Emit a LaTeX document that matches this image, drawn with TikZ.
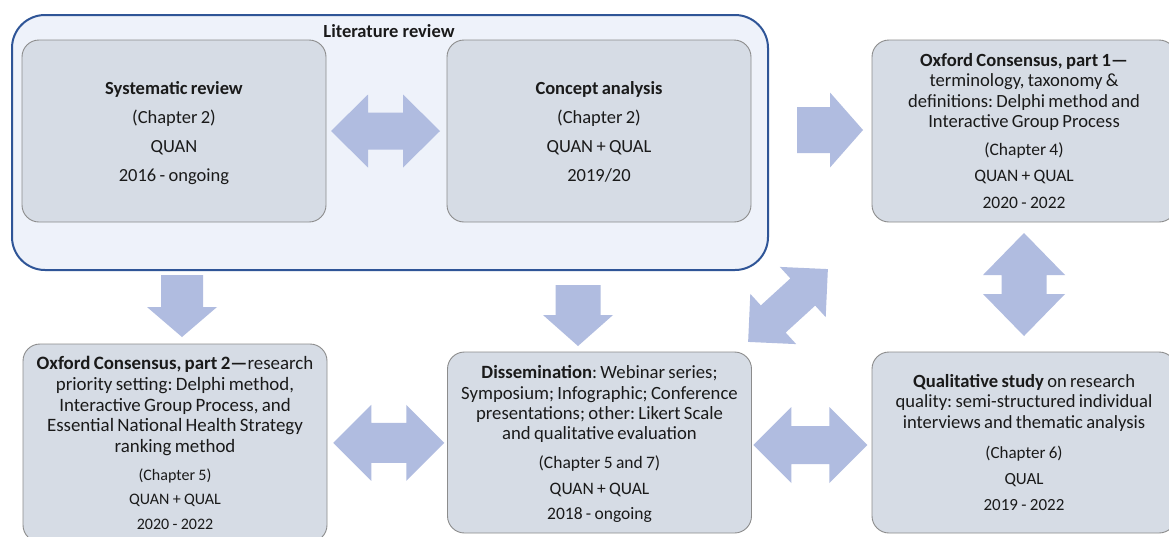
\documentclass[tikz,border=0pt]{standalone}
\usepackage{fontspec}
\setmainfont{Carlito}
\usetikzlibrary{calc}
\frenchspacing

\definecolor{litfill}{HTML}{EEF2FA}
\definecolor{litline}{HTML}{2F5597}
\definecolor{boxfill}{HTML}{D6DCE5}
\definecolor{boxline}{HTML}{8C8C8C}
\definecolor{arrowfill}{HTML}{B0BCE0}
\definecolor{inktext}{HTML}{1A1A1A}

% double-headed block arrow: centre, angle, half length, half shaft, half head, head length
\newcommand\blockdbl[6]{%
  \begin{scope}[shift={#1}, rotate=#2]
    \fill[arrowfill] (-#3,0) -- ({-#3+#6},#5) -- ({-#3+#6},#4) -- ({#3-#6},#4)
      -- ({#3-#6},#5) -- (#3,0) -- ({#3-#6},-#5) -- ({#3-#6},-#4)
      -- ({-#3+#6},-#4) -- ({-#3+#6},-#5) -- cycle;
  \end{scope}}
% single-headed block arrow, tip on the +x side before rotation
\newcommand\blocksgl[6]{%
  \begin{scope}[shift={#1}, rotate=#2]
    \fill[arrowfill] (-#3,-#4) -- ({#3-#6},-#4) -- ({#3-#6},-#5) -- (#3,0)
      -- ({#3-#6},#5) -- ({#3-#6},#4) -- (-#3,#4) -- cycle;
  \end{scope}}

\tikzset{
  stagebox/.style={draw=boxline, line width=0.9pt, fill=boxfill, rounded corners=17pt,
    minimum width=304pt, minimum height=182pt, inner sep=0pt, text width=300pt,
    align=center, text=inktext},
  litbox/.style={draw=litline, line width=2pt, fill=litfill, rounded corners=33pt,
    minimum width=756pt, minimum height=255pt, inner sep=0pt},
  littitle/.style={font=\fontsize{18.5}{22}\selectfont\bfseries, text=inktext, inner sep=0pt}
}

\begin{document}
\begin{tikzpicture}[x=1pt, y=-1pt]
\useasboundingbox (0,0) rectangle (1169,536);
\clip (0,0) rectangle (1169,536);
\fill[white] (0,0) rectangle (1169,536);

% literature review container
\node[litbox] (lit) at (390,142.5) {};
\node[littitle] (littl) at (389,31) {Literature review};

% stage boxes
\node[stagebox] (sys) at (174,131) {\fontsize{18.5}{29}\selectfont
  \rule{0pt}{18pt}\textbf{Systematic review}\\(Chapter 2)\\QUAN\\2016 - ongoing\par};
\node[stagebox] (con) at (599,131) {\fontsize{18.5}{29}\selectfont
  \rule{0pt}{18pt}\textbf{Concept analysis}\\(Chapter 2)\\QUAN + QUAL\\2019/20\rule[-4pt]{0pt}{4pt}\par};
\node[stagebox] (p1) at (1024,131) {{\fontsize{18.6}{20.3}\selectfont
  \textbf{Oxford Consensus, part 1—}\\terminology, taxonomy \&\\definitions: Delphi method and\\Interactive Group Process\par}%
  \vspace{1.5pt}{\fontsize{17.5}{26.5}\selectfont (Chapter 4)\\QUAN + QUAL\\2020 - 2022\par}};
\node[stagebox, minimum height=198pt] (p2) at (175,443) {{\fontsize{18.9}{20.7}\selectfont
  \textbf{Oxford Consensus, part 2—}research\\priority setting: Delphi method,\\Interactive Group Process, and\\Essential National Health Strategy\\ranking method\par}%
  \vspace{3.5pt}{\fontsize{16}{24.5}\selectfont (Chapter 5)\\QUAN + QUAL\\2020 - 2022\par}};
\node[stagebox, minimum height=181pt] (dis) at (599.5,442.5) {{\fontsize{18.7}{20.3}\selectfont
  \rule{0pt}{16.5pt}\textbf{Dissemination}: Webinar series;\\Symposium; Infographic; Conference\\presentations; other: Likert Scale\\and qualitative evaluation\par}%
  \vspace{3.5pt}{\fontsize{17.5}{25.5}\selectfont (Chapter 5 and 7)\\QUAN + QUAL\\2018 - ongoing\par}};
\node[stagebox, minimum height=181pt] (qual) at (1024,442.5) {{\fontsize{18.6}{20.5}\selectfont
  \textbf{Qualitative study} on research\\quality: semi-structured individual\\interviews and thematic analysis\par}%
  \vspace{4pt}{\fontsize{17}{26}\selectfont (Chapter 6)\\QUAL\\2019 - 2022\par}};

% block arrows between the stages
\blockdbl{($(sys.east)!0.5!(con.west)+(-1,0)$)}{0}{54.5}{18.5}{36.5}{37}
\blocksgl{(830,130)}{0}{33}{23}{37.5}{33}
\blockdbl{($(p1.south)!0.5!(qual.north)+(0,-2.5)$)}{90}{51.5}{22.5}{41}{42}
\blocksgl{(182,306)}{-90}{31}{21}{35}{30}
\blocksgl{(578,315.5)}{-90}{30.5}{22.5}{35}{31}
\blockdbl{(788,305.5)}{42.4}{54}{18.4}{34}{34}
\blockdbl{($(p2.east)!0.5!(dis.west)+(1.5,0)$)}{0}{55.5}{20}{38}{38}
\blockdbl{($(dis.east)!0.5!(qual.west)+(-1.5,2.5)$)}{0}{57}{19}{38}{38}
\end{tikzpicture}
\end{document}
